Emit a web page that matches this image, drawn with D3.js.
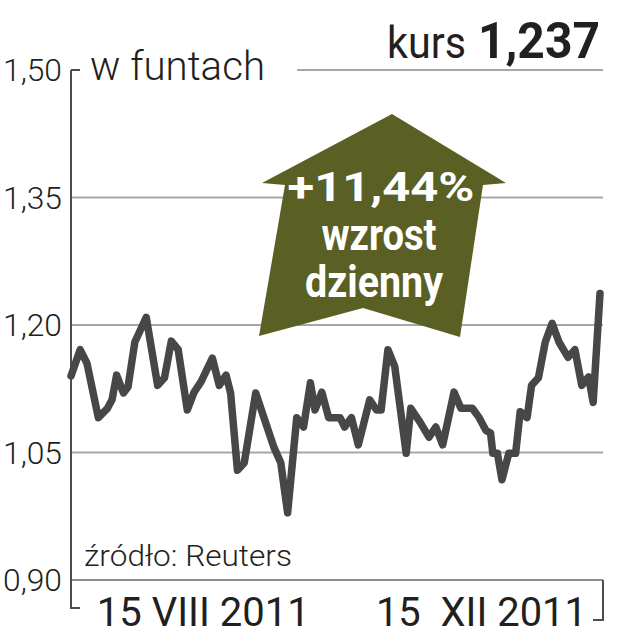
<!DOCTYPE html>
<html>
<head>
<meta charset="utf-8">
<script src="https://cdn.jsdelivr.net/npm/d3@7"></script>
<style>
  html, body { margin: 0; padding: 0; background: #fff; }
  svg { display: block; }
  text { font-family: Roboto, "Noto Sans", "DejaVu Sans", sans-serif; }
</style>
</head>
<body>
<svg id="chart" width="617" height="640"></svg>
<script>
// ---- data ----
const dates = [
  "2011-06-18","2011-06-22","2011-06-25","2011-06-30","2011-07-04","2011-07-06","2011-07-08",
  "2011-07-11","2011-07-13","2011-07-16","2011-07-21","2011-07-26","2011-07-29","2011-08-01",
  "2011-08-04","2011-08-08","2011-08-11","2011-08-14","2011-08-19","2011-08-22","2011-08-25",
  "2011-08-27","2011-08-30","2011-09-02","2011-09-07","2011-09-11","2011-09-15","2011-09-18",
  "2011-09-21","2011-09-25","2011-09-28","2011-10-01","2011-10-03","2011-10-06","2011-10-09",
  "2011-10-14","2011-10-16","2011-10-19","2011-10-22","2011-10-27","2011-10-30","2011-11-01",
  "2011-11-04","2011-11-07","2011-11-12","2011-11-14","2011-11-18","2011-11-22","2011-11-25",
  "2011-11-28","2011-12-03","2011-12-06","2011-12-11","2011-12-14","2011-12-17","2011-12-19",
  "2011-12-20","2011-12-22","2011-12-24","2011-12-27","2011-12-30","2012-01-01","2012-01-04",
  "2012-01-06","2012-01-09","2012-01-12","2012-01-15","2012-01-18","2012-01-22","2012-01-25",
  "2012-01-28","2012-01-31","2012-02-02","2012-02-05"
];
const values = [
  1.140,1.171,1.155,1.091,1.102,1.112,1.141,
  1.120,1.127,1.180,1.209,1.129,1.138,1.181,
  1.171,1.100,1.121,1.133,1.161,1.129,1.141,
  1.120,1.029,1.038,1.120,1.088,1.056,1.038,
  0.979,1.091,1.080,1.132,1.100,1.121,1.091,
  1.091,1.080,1.091,1.059,1.112,1.100,1.100,
  1.171,1.151,1.049,1.102,1.086,1.068,1.080,
  1.059,1.121,1.102,1.102,1.091,1.076,1.073,
  1.049,1.049,1.018,1.049,1.049,1.098,1.091,
  1.129,1.138,1.180,1.202,1.180,1.162,1.171,
  1.129,1.139,1.109,1.237
];
const yTicks = [0.90, 1.05, 1.20, 1.35, 1.50];
const yTickLabels = ["0,90", "1,05", "1,20", "1,35", "1,50"];
const xTickDates = ["2011-08-15", "2011-12-15"];
const xTickLabels = ["15 VIII 2011", "15  XII 2011"];
const unitLabel = "w funtach";
const rateLabel = "kurs";
const rateValue = "1,237";
const changeLines = ["+11,44%", "wzrost", "dzienny"];
const sourceLabel = "źródło: Reuters";
const domainStart = "2011-06-18", domainEnd = "2012-02-05";

// ---- setup ----
const parse = d3.timeParse("%Y-%m-%d");
const series = dates.map((d, i) => ({ date: parse(d), value: values[i] }));
const svg = d3.select("#chart");

const mLeft = 71, mRight = 603, plotRight = 600, mTop = 70, mBottom = 580;
const x = d3.scaleTime().domain([parse(domainStart), parse(domainEnd)]).range([mLeft, plotRight]);
const y = d3.scaleLinear().domain([0.90, 1.50]).range([mBottom, mTop]);

const textColor = "#231f20";
const gridColor = "#a7a7a7";
const axisColor = "#4d4d4d";
const lineColor = "#474747";
const olive = "#5a5f24";

// ---- gridlines ----
const grid = svg.append("g");
yTicks.forEach(t => {
  if (t === 1.50) {
    grid.append("line").attr("x1", mLeft).attr("x2", mLeft + 9)
      .attr("y1", y(t)).attr("y2", y(t)).attr("stroke", axisColor).attr("stroke-width", 2);
    grid.append("line").attr("x1", 297).attr("x2", mRight)
      .attr("y1", y(t)).attr("y2", y(t)).attr("stroke", gridColor).attr("stroke-width", 2);
  } else {
    grid.append("line").attr("x1", mLeft).attr("x2", mRight)
      .attr("y1", y(t)).attr("y2", y(t))
      .attr("stroke", t === 0.90 ? "#8c8c8c" : gridColor).attr("stroke-width", 2);
  }
});

// y tick labels
svg.append("g").selectAll("text").data(yTicks).join("text")
  .attr("x", 62).attr("y", d => y(d)).attr("dy", "0.36em")
  .attr("text-anchor", "end")
  .attr("font-size", 31).attr("font-weight", 300).attr("fill", textColor)
  .attr("textLength", 59).attr("lengthAdjust", "spacingAndGlyphs")
  .text((d, i) => yTickLabels[i]);

// left axis + bottom brackets
svg.append("path")
  .attr("d", `M${mLeft},${mTop} V${608} H${mLeft + 9}`)
  .attr("fill", "none").attr("stroke", axisColor).attr("stroke-width", 2);
svg.append("path")
  .attr("d", `M${mRight},${mBottom} V${620} H${mRight - 10}`)
  .attr("fill", "none").attr("stroke", axisColor).attr("stroke-width", 2);

// x tick labels
const xTicks = xTickDates.map(parse);
svg.append("g").selectAll("text").data(xTicks).join("text")
  .attr("x", d => x(d)).attr("y", 626)
  .attr("text-anchor", "middle")
  .attr("font-size", 41).attr("font-weight", 400).attr("fill", textColor)
  .style("white-space", "pre")
  .attr("textLength", (d, i) => i === 0 ? 213 : 211).attr("lengthAdjust", "spacingAndGlyphs")
  .text((d, i) => xTickLabels[i]);

// ---- arrow annotation ----
const arrowPts = [[392,114],[506,183],[483,185],[460,337],[363,308],[259,336],[285,185],[262,183]];
svg.append("path")
  .attr("d", d3.line()(arrowPts) + "Z")
  .attr("fill", olive);

const arrowText = svg.append("g").attr("fill", "#fff").attr("font-weight", 700).attr("text-anchor", "middle");
arrowText.append("text").attr("x", 381).attr("y", 201).attr("font-size", 40)
  .attr("textLength", 187).attr("lengthAdjust", "spacingAndGlyphs").text(changeLines[0]);
arrowText.append("text").attr("x", 379).attr("y", 250).attr("font-size", 44)
  .attr("textLength", 115).attr("lengthAdjust", "spacingAndGlyphs").text(changeLines[1]);
arrowText.append("text").attr("x", 374).attr("y", 297).attr("font-size", 44)
  .attr("textLength", 138).attr("lengthAdjust", "spacingAndGlyphs").text(changeLines[2]);

// ---- line ----
svg.append("path")
  .datum(series)
  .attr("d", d3.line().x(d => x(d.date)).y(d => y(d.value)))
  .attr("fill", "none").attr("stroke", lineColor)
  .attr("stroke-width", 7.5).attr("stroke-linejoin", "round").attr("stroke-linecap", "round");

// ---- titles ----
svg.append("text").attr("x", 90).attr("y", 80)
  .attr("font-size", 40).attr("font-weight", 300).attr("fill", textColor)
  .attr("textLength", 175).attr("lengthAdjust", "spacingAndGlyphs")
  .text(unitLabel);

svg.append("text").attr("x", 387).attr("y", 58)
  .attr("font-size", 45).attr("font-weight", 400).attr("fill", textColor)
  .attr("textLength", 79).attr("lengthAdjust", "spacingAndGlyphs")
  .text(rateLabel);
svg.append("text").attr("x", 478).attr("y", 58)
  .attr("font-size", 50).attr("font-weight", 700).attr("fill", textColor)
  .attr("textLength", 122).attr("lengthAdjust", "spacingAndGlyphs")
  .text(rateValue);

svg.append("text").attr("x", 84).attr("y", 566)
  .attr("font-size", 30).attr("font-weight", 300).attr("fill", textColor)
  .attr("textLength", 208).attr("lengthAdjust", "spacingAndGlyphs")
  .text(sourceLabel);
</script>
</body>
</html>
